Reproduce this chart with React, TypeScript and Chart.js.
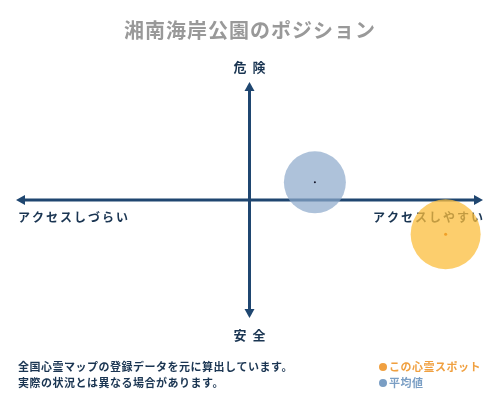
import { useEffect, useRef } from "react"
import { Chart, registerables } from "chart.js"

Chart.register(...registerables)

const title = "湘南海岸公園のポジション"
const axisLabels = ["危険", "安全", "アクセスしづらい", "アクセスしやすい"]
const noteLines = [
  "全国心霊マップの登録データを元に算出しています。",
  "実際の状況とは異なる場合があります。",
]
const seriesNames = ["この心霊スポット", "平均値"]
// position on a -100..100 grid (x: access, y: danger), bubble radius in px
const spotX = [84]
const spotY = [-29]
const spotR = [35]
const avgX = [28]
const avgY = [15]
const avgR = [31]

const NAVY = "#1f4670"
const FONT = "'Noto Sans CJK JP', sans-serif"

const quadrantPlugin = {
  id: "quadrant",
  beforeDatasetsDraw(chart: Chart) {
    const { ctx } = chart
    const xs = chart.scales.x
    const ys = chart.scales.y
    const cx = xs.getPixelForValue(0)
    const cy = ys.getPixelForValue(0)
    const left = xs.left
    const right = xs.right
    const top = ys.top
    const bottom = ys.bottom
    ctx.save()
    ctx.strokeStyle = NAVY
    ctx.fillStyle = NAVY
    ctx.lineWidth = 3
    ctx.beginPath()
    ctx.moveTo(left + 4, cy)
    ctx.lineTo(right - 4, cy)
    ctx.moveTo(cx, top + 4)
    ctx.lineTo(cx, bottom - 4)
    ctx.stroke()
    const head = (pts: number[][]) => {
      ctx.beginPath()
      ctx.moveTo(pts[0][0], pts[0][1])
      ctx.lineTo(pts[1][0], pts[1][1])
      ctx.lineTo(pts[2][0], pts[2][1])
      ctx.closePath()
      ctx.fill()
    }
    head([[right, cy], [right - 9, cy - 5], [right - 9, cy + 5]])
    head([[left, cy], [left + 9, cy - 5], [left + 9, cy + 5]])
    head([[cx, top], [cx - 5, top + 9], [cx + 5, top + 9]])
    head([[cx, bottom], [cx - 5, bottom - 9], [cx + 5, bottom - 9]])

    // axis labels sit under the bubbles
    ctx.textBaseline = "middle"
    ctx.fillStyle = "#1a3552"
    ctx.font = `bold 13px ${FONT}`
    ctx.textAlign = "center"
    ;(ctx as any).letterSpacing = "6px"
    ctx.fillText(axisLabels[0], cx + 3, top - 15)
    ctx.fillText(axisLabels[1], cx + 3, bottom + 17)

    ctx.font = `bold 12px ${FONT}`
    ;(ctx as any).letterSpacing = "2px"
    ctx.textAlign = "left"
    ctx.fillText(axisLabels[2], left + 2, cy + 17)
    ctx.textAlign = "right"
    ctx.fillText(axisLabels[3], right + 2, cy + 17)
    ctx.restore()
  },
  afterDraw(chart: Chart) {
    const { ctx } = chart
    ctx.save()
    ctx.textBaseline = "middle"

    ctx.fillStyle = "#999999"
    ctx.font = `bold 20px ${FONT}`
    ctx.textAlign = "center"
    ;(ctx as any).letterSpacing = "1px"
    ctx.fillText(title, 250, 30)

    ctx.fillStyle = "#1a3552"
    ctx.font = `bold 11px ${FONT}`
    ;(ctx as any).letterSpacing = "0.5px"
    ctx.textAlign = "left"
    ctx.fillText(noteLines[0], 18, 367)
    ctx.fillText(noteLines[1], 18, 383)

    const legendColors = ["#f0a040", "#7a9ec4"]
    seriesNames.forEach((name, i) => {
      const y = 367 + i * 16
      ctx.fillStyle = legendColors[i]
      ctx.beginPath()
      ctx.arc(383, y, 4, 0, Math.PI * 2)
      ctx.fill()
      ctx.fillText(name, 389, y)
    })
    ctx.restore()
  },
}

export default function App() {
  const chartRef = useRef<HTMLCanvasElement>(null)
  const chartInstance = useRef<Chart | null>(null)

  useEffect(() => {
    if (!chartRef.current) return
    if (chartInstance.current) chartInstance.current.destroy()
    const ctx = chartRef.current.getContext("2d")
    if (!ctx) return

    chartInstance.current = new Chart(ctx, {
      type: "bubble",
      data: {
        datasets: [
          {
            label: seriesNames[0],
            data: spotX.map((x, i) => ({ x, y: spotY[i], r: 1.5 })),
            backgroundColor: "rgba(240, 160, 40, 1)",
            borderWidth: 0,
          },
          {
            label: seriesNames[1],
            data: avgX.map((x, i) => ({ x, y: avgY[i], r: 1 })),
            backgroundColor: "rgba(20, 20, 40, 1)",
            borderWidth: 0,
          },
          {
            label: seriesNames[0],
            data: spotX.map((x, i) => ({ x, y: spotY[i], r: spotR[i] })),
            backgroundColor: "rgba(251, 190, 60, 0.75)",
            borderWidth: 0,
          },
          {
            label: seriesNames[1],
            data: avgX.map((x, i) => ({ x, y: avgY[i], r: avgR[i] })),
            backgroundColor: "rgba(140, 168, 202, 0.7)",
            borderWidth: 0,
          },
        ],
      },
      options: {
        animation: false,
        responsive: false,
        maintainAspectRatio: false,
        layout: { autoPadding: false, padding: { left: 16, right: 17, top: 82, bottom: 82 } },
        scales: {
          x: { display: false, min: -100, max: 100 },
          y: { display: false, min: -100, max: 100 },
        },
        plugins: {
          legend: { display: false },
          tooltip: { enabled: false },
        },
      },
      plugins: [quadrantPlugin],
    })

    return () => {
      if (chartInstance.current) {
        chartInstance.current.destroy()
        chartInstance.current = null
      }
    }
  }, [])

  return (
    <div style={{ position: "fixed", left: 0, top: 0, width: 500, height: 400, background: "#fff" }}>
      <canvas ref={chartRef} width={500} height={400} />
    </div>
  )
}
